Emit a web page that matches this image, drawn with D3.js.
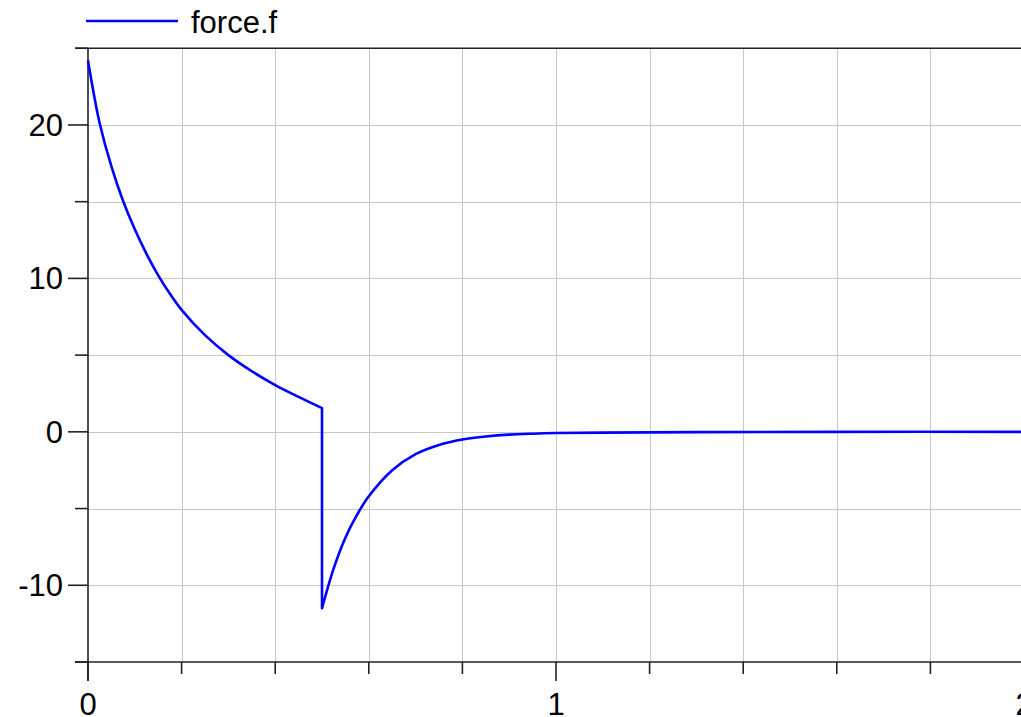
<!DOCTYPE html>
<html>
<head>
<meta charset="utf-8">
<script src="https://cdn.jsdelivr.net/npm/d3@7"></script>
<style>
  body { margin: 0; background: #fff; }
  svg { display: block; font-family: "Liberation Sans", Arial, sans-serif; }
</style>
</head>
<body>
<div id="graph"></div>
<script>
// data
var seriesName = "force.f";
// before the switch at t = 0.5
var t1 = [0, 0.0125, 0.025, 0.05, 0.075, 0.1, 0.125, 0.15, 0.175, 0.2, 0.25, 0.3, 0.35, 0.4, 0.45, 0.5];
var f1 = [24.2, 22.0, 20.1, 17.3, 15.05, 13.2, 11.6, 10.2, 9.0, 7.95, 6.3, 5.0, 3.95, 3.05, 2.28, 1.55];
// after the switch
var t2 = [0.5, 0.525, 0.55, 0.575, 0.6, 0.65, 0.7, 0.75, 0.8, 0.85, 0.9, 0.95, 1.0, 1.1, 1.3, 1.6, 2.0];
var f2 = [-11.5, -8.9, -6.9, -5.4, -4.2, -2.5, -1.45, -0.85, -0.5, -0.3, -0.18, -0.12, -0.08, -0.05, -0.02, 0.0, 0.0];

var xTicks = [0, 1, 2];
var xMinor = [0.2, 0.4, 0.6, 0.8, 1.2, 1.4, 1.6, 1.8];
var yTicks = [-10, 0, 10, 20];
var yMinor = [-15, -5, 5, 15, 25];

var W = 1021, H = 717;
var svg = d3.select("#graph")
  .append("svg")
    .attr("width", W)
    .attr("height", H)

var x = d3.scaleLinear().domain([0, 2]).range([88, 1024])
var y = d3.scaleLinear().domain([-15, 25]).range([662, 48.25])

// grid
var grid = svg.append("g").attr("stroke", "#c8c8c8").attr("stroke-width", 1)
grid.selectAll("line.v")
  .data(xMinor.concat([1]))
  .enter().append("line")
    .attr("x1", function(d){ return Math.round(x(d)) + 0.5 })
    .attr("x2", function(d){ return Math.round(x(d)) + 0.5 })
    .attr("y1", y(25)).attr("y2", y(-15))
grid.selectAll("line.h")
  .data([-10, -5, 0, 5, 10, 15, 20])
  .enter().append("line")
    .attr("y1", function(d){ return Math.round(y(d)) + 0.5 })
    .attr("y2", function(d){ return Math.round(y(d)) + 0.5 })
    .attr("x1", x(0)).attr("x2", W)

// axes frame
var ax = svg.append("g").attr("stroke", "#222").attr("stroke-width", 1.6)
ax.append("line").attr("x1", x(0)).attr("x2", x(0)).attr("y1", y(25)).attr("y2", y(-15) + 19)
ax.append("line").attr("x1", 75).attr("x2", W).attr("y1", y(-15)).attr("y2", y(-15))
ax.append("line").attr("x1", 75).attr("x2", W).attr("y1", y(25)).attr("y2", y(25))

// y ticks
ax.selectAll("line.yt")
  .data(yTicks)
  .enter().append("line")
    .attr("x1", 68).attr("x2", x(0))
    .attr("y1", function(d){ return y(d) }).attr("y2", function(d){ return y(d) })
ax.selectAll("line.ym")
  .data(yMinor)
  .enter().append("line")
    .attr("x1", 75).attr("x2", x(0))
    .attr("y1", function(d){ return y(d) }).attr("y2", function(d){ return y(d) })

// x ticks
ax.selectAll("line.xt")
  .data(xTicks)
  .enter().append("line")
    .attr("x1", function(d){ return x(d) }).attr("x2", function(d){ return x(d) })
    .attr("y1", y(-15)).attr("y2", y(-15) + 19)
ax.selectAll("line.xm")
  .data(xMinor)
  .enter().append("line")
    .attr("x1", function(d){ return x(d) }).attr("x2", function(d){ return x(d) })
    .attr("y1", y(-15)).attr("y2", y(-15) + 12)

// labels
svg.append("g")
  .selectAll("text")
  .data(yTicks)
  .enter().append("text")
    .attr("x", 63)
    .attr("y", function(d){ return y(d) })
    .attr("dy", "0.35em")
    .attr("text-anchor", "end")
    .attr("font-size", 31)
    .text(function(d){ return d })

svg.append("g")
  .selectAll("text")
  .data(xTicks)
  .enter().append("text")
    .attr("x", function(d){ return x(d) })
    .attr("y", 715)
    .attr("text-anchor", "middle")
    .attr("font-size", 31)
    .text(function(d){ return d })

// the curve, with the jump at t = 0.5
var line = d3.line()
  .x(function(d){ return x(d[0]) })
  .y(function(d){ return y(d[1]) })
  .curve(d3.curveCatmullRom.alpha(0.5))
var seg1 = t1.map(function(t, i){ return [t, f1[i]] })
var seg2 = t2.map(function(t, i){ return [t, f2[i]] })
svg.append("path")
  .attr("d", line(seg1) + line(seg2).replace(/^M/, "L"))
  .attr("fill", "none")
  .attr("stroke", "#0000ff")
  .attr("stroke-width", 2.6)
  .attr("stroke-linejoin", "round")

// legend
svg.append("line")
  .attr("x1", 86).attr("x2", 178).attr("y1", 21).attr("y2", 21)
  .attr("stroke", "#0000ff").attr("stroke-width", 2.6)
svg.append("text")
  .attr("x", 191).attr("y", 33)
  .attr("font-size", 31)
  .text(seriesName)
</script>
</body>
</html>
